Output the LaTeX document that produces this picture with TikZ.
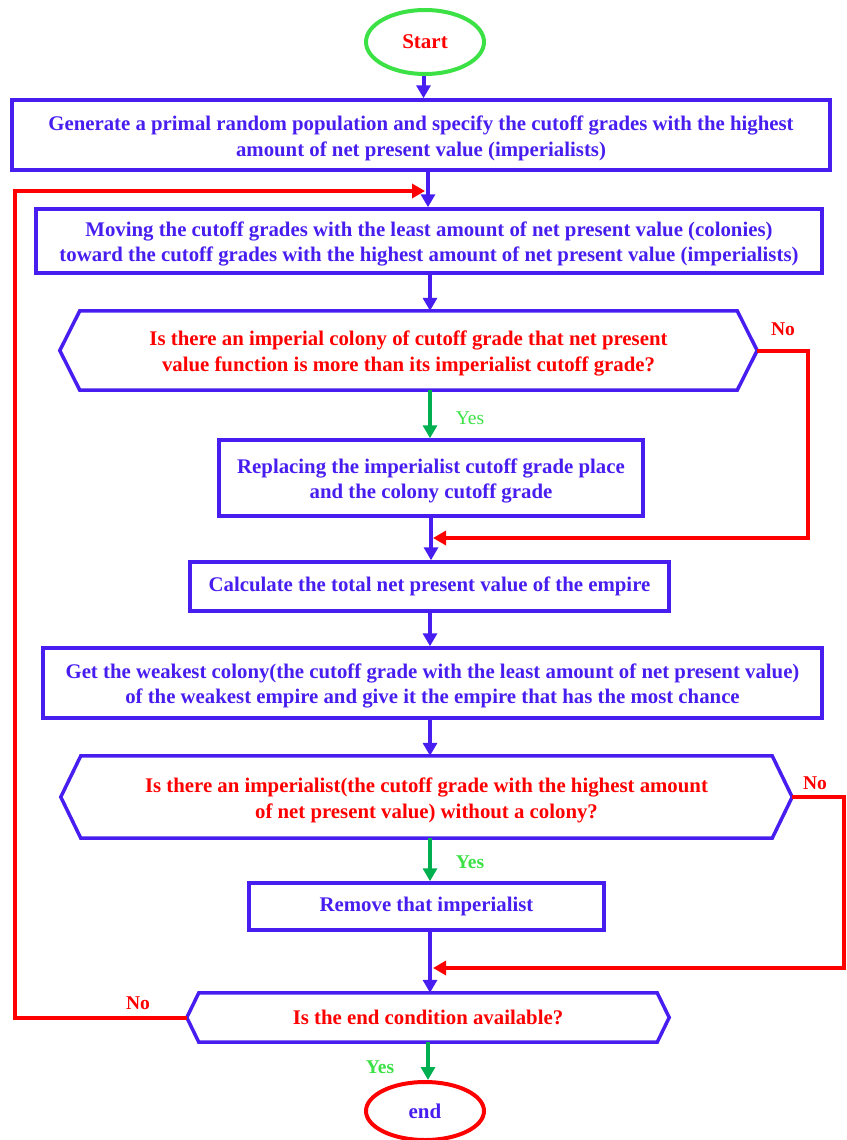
\documentclass[tikz,border=0pt]{standalone}
\usepackage{fontspec}
\setmainfont{Liberation Serif}
\usetikzlibrary{arrows.meta,shapes.geometric}
\definecolor{bl}{RGB}{72,30,240}
\definecolor{rd}{RGB}{255,0,0}
\definecolor{lg}{RGB}{60,225,70}
\definecolor{dg}{RGB}{0,176,80}
\newcommand\tstrut{\rule{0pt}{21pt}}
\tikzset{
  box/.style={draw=bl, line width=3.5pt, text=bl, align=center, inner sep=0pt,
    font=\bfseries\fontsize{20.8}{25.5}\selectfont},
  qtext/.style={text=rd, align=center, inner sep=0pt, font=\bfseries\fontsize{20.8}{25.5}\selectfont},
  hexline/.style={draw=bl, line width=3.5pt, line join=miter},
  term/.style={ellipse, line width=4pt, inner sep=0pt, font=\bfseries\fontsize{21}{24}\selectfont},
  flow/.style={draw=bl, line width=4pt, -{Triangle[width=14pt,length=13pt]}},
  yesflow/.style={draw=dg, line width=4pt, -{Triangle[width=14pt,length=13pt]}},
  noflow/.style={draw=rd, line width=4pt, line join=miter, -{Triangle[width=14pt,length=13pt]}},
  lab/.style={font=\bfseries\fontsize{19.5}{22}\selectfont, inner sep=0pt},
}
\begin{document}
\begin{tikzpicture}[x=1pt,y=-1pt]
\useasboundingbox (0,0) rectangle (846,1140);

% nodes
\node[term, draw=lg, text=rd, minimum width=118pt, minimum height=64pt] (start) at (425,42) {Start};
\node[box, minimum width=818pt, minimum height=70pt] (b1) at (421,135)
  {\tstrut Generate a primal random population and specify the cutoff grades with the highest\\amount of net present value (imperialists)};
\node[box, minimum width=786pt, minimum height=64pt] (b2) at (429,241)
  {\tstrut Moving the cutoff grades with the least amount of net present value (colonies)\\toward the cutoff grades with the highest amount of net present value (imperialists)};
\node[qtext, minimum width=657pt, minimum height=79pt] (h1) at (408.5,350.5)
  {\tstrut Is there an imperial colony of cutoff grade that net present\\value function is more than its imperialist cutoff grade?};
\draw[hexline] (h1.north west) -- (h1.north east) -- ([xshift=20pt]h1.east) -- (h1.south east)
  -- (h1.south west) -- ([xshift=-20pt]h1.west) -- cycle;
\coordinate (h1r) at ([xshift=20pt]h1.east);
\node[box, minimum width=424pt, minimum height=76pt] (b3) at (431,478)
  {\tstrut Replacing the imperialist cutoff grade place\\and the colony cutoff grade};
\node[box, minimum width=479pt, minimum height=49pt] (b4) at (429.5,586.5)
  {Calculate the total net present value of the empire};
\node[box, minimum width=779pt, minimum height=70pt] (b5) at (432.5,683)
  {\tstrut Get the weakest colony(the cutoff grade with the least amount of net present value)\\of the weakest empire and give it the empire that has the most chance};
\node[qtext, minimum width=691pt, minimum height=82pt] (h2) at (426.5,797)
  {\tstrut Is there an imperialist(the cutoff grade with the highest amount\\of net present value) without a colony?};
\draw[hexline] (h2.north west) -- (h2.north east) -- ([xshift=20pt]h2.east) -- (h2.south east)
  -- (h2.south west) -- ([xshift=-20pt]h2.west) -- cycle;
\coordinate (h2r) at ([xshift=20pt]h2.east);
\node[box, minimum width=355pt, minimum height=47pt] (b6) at (426.5,906.5)
  {Remove that imperialist};
\node[qtext, minimum width=458pt, minimum height=49pt] (h3) at (428,1017.5)
  {Is the end condition available?};
\draw[hexline] (h3.north west) -- (h3.north east) -- ([xshift=12pt]h3.east) -- (h3.south east)
  -- (h3.south west) -- ([xshift=-12pt]h3.west) -- cycle;
\coordinate (h3l) at ([xshift=-12pt]h3.west);
\node[term, draw=rd, text=bl, minimum width=118pt, minimum height=58pt] (end) at (425,1111) {end};

% column coordinates
\coordinate (x1) at (423.5,0);
\coordinate (x2) at (428,0);
\coordinate (x3) at (430,0);
\coordinate (x4) at (431,0);

% main flow
\draw[flow] (start.south -| x1) -- (b1.north -| x1);
\draw[flow] (b1.south -| x2) -- (b2.north -| x2);
\draw[flow] (b2.south -| x3) -- (h1.north -| x3);
\draw[yesflow] (h1.south -| x3) -- (b3.north -| x3);
\draw[flow] (b3.south -| x4) -- (b4.north -| x4);
\draw[flow] (b4.south -| x3) -- (b5.north -| x3);
\draw[flow] (b5.south -| x3) -- (h2.north -| x3);
\draw[yesflow] (h2.south -| x3) -- (b6.north -| x3);
\draw[flow] (b6.south -| x3) -- (h3.north -| x3);
\draw[yesflow] (h3.south -| x2) -- (end.north -| x2);

% No branches
\coordinate (n1) at (808,538);
\coordinate (n2) at (844,968);
\coordinate (n3) at (15,191);
\coordinate (e1) at (433,538);
\coordinate (e2) at (433,968);
\coordinate (e3) at (425,191);
\draw[noflow] (h1r) -| (n1) -- (e1);
\draw[noflow] (h2r) -| (n2) -- (e2);
\draw[noflow] (h3l) -| (n3) -- (e3);

% labels
\node[lab, text=rd] (no1) at (783,329) {No};
\node[lab, text=rd] (no2) at (815,783) {No};
\node[lab, text=rd] (no3) at (138,1003) {No};
\node[font=\fontsize{19.5}{22}\selectfont, inner sep=0pt, text=lg] (yes1) at (470,418) {Yes};
\node[lab, text=lg] (yes2) at (470,862) {Yes};
\node[lab, text=lg] (yes3) at (380,1067) {Yes};
\end{tikzpicture}
\end{document}
